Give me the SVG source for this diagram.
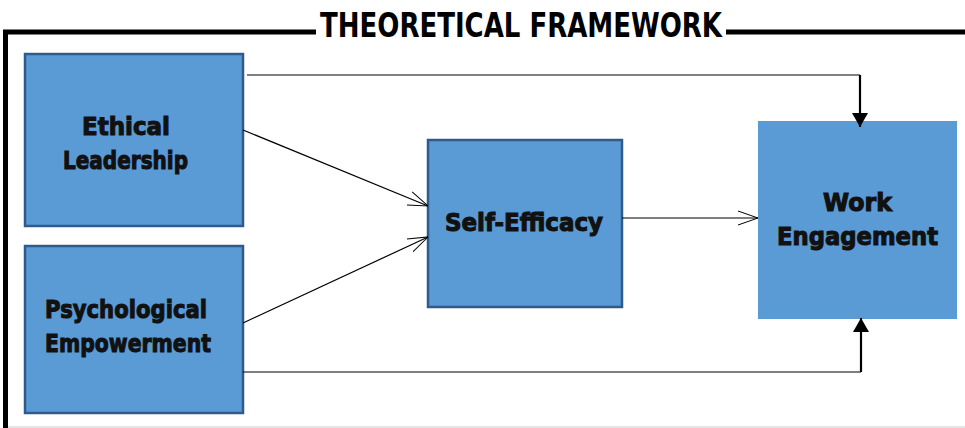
<svg xmlns="http://www.w3.org/2000/svg" width="965" height="428" viewBox="0 0 965 428">
<style>
.box{fill:#5B9BD5;stroke:#2E5B8C;stroke-width:2.5}
.box2{fill:#5B9BD5}
.lbl{font-family:"DejaVu Sans",sans-serif;font-weight:bold;font-size:25px;fill:#111;stroke:#111;stroke-width:1.1;text-anchor:middle}
.title{font-family:"Liberation Sans Narrow","DejaVu Sans Condensed","DejaVu Sans",sans-serif;font-weight:bold;font-size:34px;fill:#000}
.ln{fill:none;stroke:#000;stroke-width:1.2}
.thick{fill:none;stroke:#000;stroke-width:2.2}
</style>
<defs>
<marker id="open" viewBox="0 0 20 16" refX="20" refY="8" markerWidth="20" markerHeight="16" markerUnits="userSpaceOnUse" orient="auto">
<path d="M0,1 L20,8 L0,15" fill="none" stroke="#000" stroke-width="1"/>
</marker>
<marker id="solid" viewBox="0 0 14 16" refX="14" refY="8" markerWidth="14" markerHeight="16" markerUnits="userSpaceOnUse" orient="auto">
<path d="M0,0 L14,8 L0,16 Z" fill="#000"/>
</marker>
</defs>
<rect width="965" height="428" fill="#fff"/>
<g id="frame">
<path d="M5.5,428 V32 H316" fill="none" stroke="#000" stroke-width="5"/>
<path d="M726,32 H965" fill="none" stroke="#000" stroke-width="5"/>
<line x1="8" y1="427" x2="965" y2="427" stroke="#ddd" stroke-width="1.5"/>
<text class="title" x="320" y="37" textLength="402" lengthAdjust="spacingAndGlyphs">THEORETICAL FRAMEWORK</text>
</g>
<g id="ethical-leadership">
<rect class="box" x="25" y="54" width="218" height="172"/>
<text class="lbl" x="126" y="135" textLength="88" lengthAdjust="spacingAndGlyphs">Ethical</text>
<text class="lbl" x="125.5" y="169" textLength="125" lengthAdjust="spacingAndGlyphs">Leadership</text>
</g>
<g id="psychological-empowerment">
<rect class="box" x="25" y="246" width="218" height="167"/>
<text class="lbl" x="126" y="318" textLength="162" lengthAdjust="spacingAndGlyphs">Psychological</text>
<text class="lbl" x="128" y="352" textLength="166" lengthAdjust="spacingAndGlyphs">Empowerment</text>
</g>
<g id="self-efficacy">
<rect class="box" x="428" y="140" width="194" height="167"/>
<text class="lbl" x="524" y="231" textLength="158" lengthAdjust="spacingAndGlyphs">Self-Efficacy</text>
</g>
<g id="work-engagement">
<rect class="box2" x="758" y="121" width="199" height="198"/>
<text class="lbl" x="857.5" y="211" textLength="69" lengthAdjust="spacingAndGlyphs">Work</text>
<text class="lbl" x="857.5" y="245" textLength="161" lengthAdjust="spacingAndGlyphs">Engagement</text>
</g>
<g id="connectors">
<path class="ln" d="M247,75 H860"/>
<path class="thick" d="M860,75 V127" marker-end="url(#solid)"/>
<path class="ln" d="M243,372 H861"/>
<path class="thick" d="M861,372 V318" marker-end="url(#solid)"/>
<line class="ln" x1="243" y1="130" x2="428" y2="206" marker-end="url(#open)"/>
<line class="ln" x1="243" y1="323" x2="428" y2="237" marker-end="url(#open)"/>
<line class="ln" x1="622" y1="218" x2="758" y2="218" marker-end="url(#open)"/>
</g>
</svg>
